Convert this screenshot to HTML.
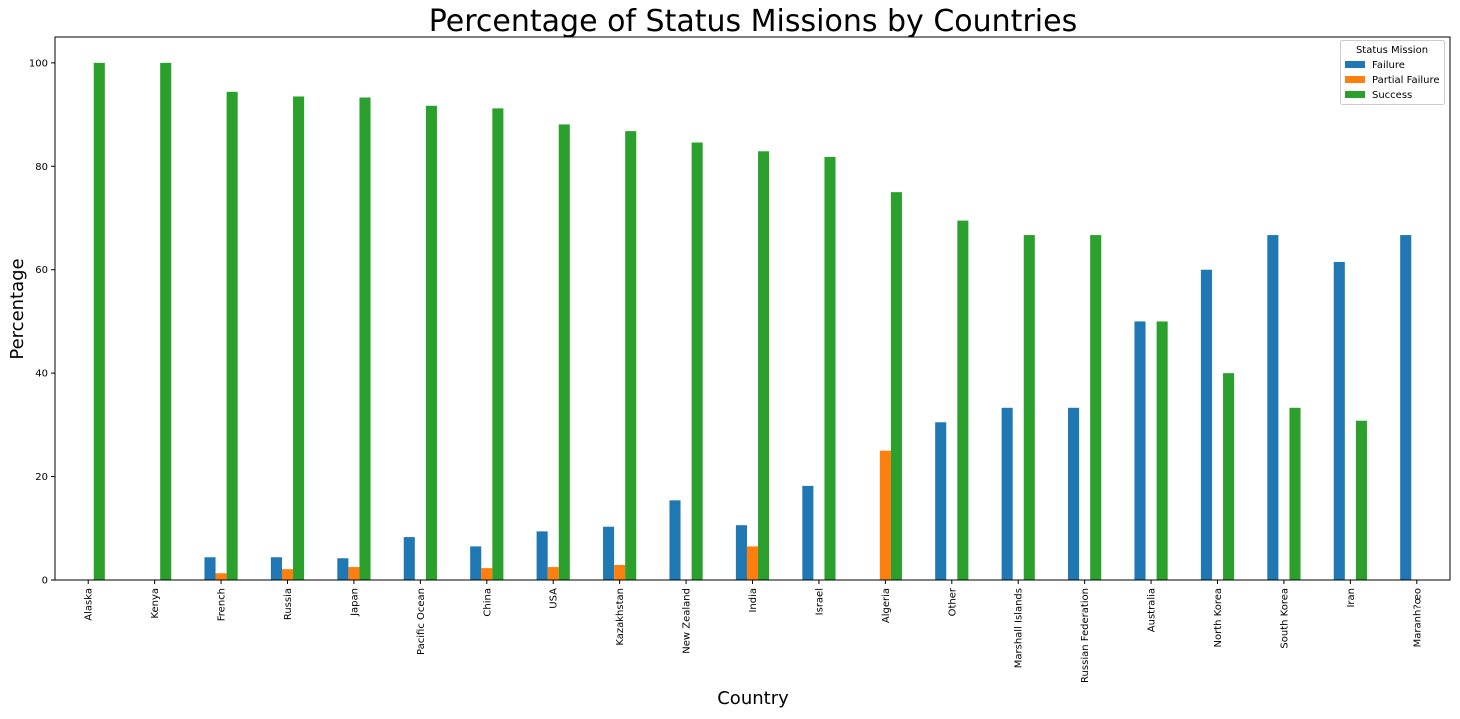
<!DOCTYPE html>
<html><head><meta charset="utf-8"><style>
body{margin:0;background:#fff;font-family:"DejaVu Sans","Liberation Sans",sans-serif}
svg text{font-family:"DejaVu Sans","Liberation Sans",sans-serif}
</style></head><body>
<svg id="c" width="1460" height="715" xmlns="http://www.w3.org/2000/svg"></svg>
<script>
const categories=["Alaska","Kenya","French","Russia","Japan","Pacific Ocean","China","USA","Kazakhstan","New Zealand","India","Israel","Algeria","Other","Marshall Islands","Russian Federation","Australia","North Korea","South Korea","Iran","Maranh?œo"];
const failure=[0,0,4.4,4.4,4.2,8.3,6.5,9.4,10.3,15.4,10.6,18.2,0,30.5,33.3,33.3,50,60,66.7,61.5,66.7];
const partial=[0,0,1.3,2.1,2.5,0,2.3,2.5,2.9,0,6.5,0,25,0,0,0,0,0,0,0,0];
const success=[100,100,94.4,93.5,93.3,91.7,91.2,88.1,86.8,84.6,82.9,81.8,75,69.5,66.7,66.7,50,40,33.3,30.8,0];
const yTicks=[0,20,40,60,80,100];
const seriesNames=["Failure","Partial Failure","Success"];
const colors=["#1f77b4","#ff7f0e","#2ca02c"];
const svg=document.getElementById('c');const NS="http://www.w3.org/2000/svg";
const L=55,R=1450,T=37,B=580,ymax=105;
const step=(R-L)/categories.length,bw=step*0.5/3;
const y=v=>B-(v/ymax)*(B-T);
const xc=i=>L+step*(i+0.5);
function mk(t,a,txt){const e=document.createElementNS(NS,t);for(const k in a)e.setAttribute(k,a[k]);if(txt!=null)e.textContent=txt;svg.appendChild(e);return e;}
let e=mk('text',{x:753,y:31,'font-size':30,'text-anchor':'middle',fill:'#000'},'Percentage of Status Missions by Countries');


[failure,partial,success].forEach((s,si)=>{s.forEach((v,i)=>{
 const r=mk('rect',{x:xc(i)-1.5*bw+si*bw,y:y(v),width:bw,height:B-y(v),fill:colors[si]});
 
 
});});
e=mk('rect',{x:L,y:T,width:R-L,height:B-T,fill:'none',stroke:'#000','stroke-width':1});


yTicks.forEach(t=>{
 mk('line',{x1:L-4,x2:L,y1:y(t),y2:y(t),stroke:'#000'});
 const tx=mk('text',{x:L-7,y:y(t)+3.5,'font-size':10,'text-anchor':'end'},t);
 
 
});
categories.forEach((c,i)=>{
 mk('line',{x1:xc(i),x2:xc(i),y1:B,y2:B+4,stroke:'#000'});
 const tx=mk('text',{x:0,y:0,'font-size':10,'text-anchor':'end',transform:`translate(${xc(i)+3.5},${B+8}) rotate(-90)`},c);
 
 
});
e=mk('text',{x:753,y:704,'font-size':18,'text-anchor':'middle'},'Country');


e=mk('text',{x:0,y:0,'font-size':18,'text-anchor':'middle',transform:'translate(23,309) rotate(-90)'},'Percentage');


e=mk('rect',{x:1340.5,y:40.5,width:104,height:64,rx:2,fill:'#fff',stroke:'#ccc'});


mk('text',{x:1392,y:53,'font-size':10,'text-anchor':'middle'},'Status Mission');
seriesNames.forEach((n,i)=>{
 const r=mk('rect',{x:1345,y:61+i*15,width:20,height:7,fill:colors[i]});
 
 
 const t=mk('text',{x:1372,y:68+i*15,'font-size':10},n);
 
 
});
</script>
</body></html>
